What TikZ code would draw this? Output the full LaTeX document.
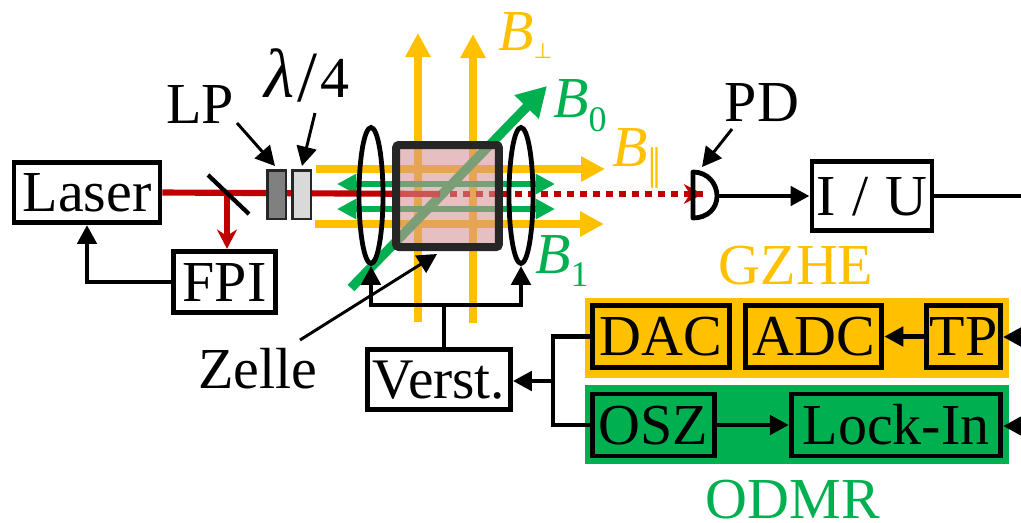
\documentclass[tikz,border=0pt]{standalone}
\usepackage{fontspec}
\setmainfont{Liberation Serif}
\newfontfamily\symfont{DejaVu Sans}
\usetikzlibrary{arrows.meta,shapes.geometric}
\definecolor{gelb}{HTML}{FFC000}
\definecolor{gruen}{HTML}{00B050}
\definecolor{rot}{HTML}{C00000}
\definecolor{rahmen}{HTML}{262626}
\definecolor{zellfill}{RGB}{212,146,146}
\newcommand{\bigtxt}{\fontsize{43.5}{50}\selectfont}
\newcommand{\subtxt}{\fontsize{27}{30}\selectfont}
\tikzset{
  x=0.75pt,y=-0.75pt,
  blackline/.style={draw=black,line width=3.7pt},
  blackarrow/.style={blackline,-{Triangle[length=14.25pt,width=14.25pt]}},
  thinarrow/.style={draw=black,line width=2.2pt,-{Triangle[length=14.5pt,width=15pt]}},
  box/.style={draw=black,line width=3.7pt,inner sep=0pt,font=\bigtxt,text height=28.9pt,text depth=0pt,align=center},
  lab/.style={anchor=base,inner sep=0pt,font=\bigtxt},
  symlab/.style={anchor=base west,inner sep=0pt,font=\bigtxt},
  yellowbeam/.style={draw=gelb,line width=5.8pt,-{Triangle[length=18pt,width=18pt]}},
  greenthin/.style={draw=gruen,line width=3.8pt,{Triangle[length=14.5pt,width=14.5pt]}-{Triangle[length=14.5pt,width=14.5pt]}},
  greenthick/.style={draw=gruen,line width=7pt,-{Triangle[length=22pt,width=24pt]}},
  redbeam/.style={draw=rot,line width=4.6pt},
  optic/.style={draw=rahmen,line width=2pt,inner sep=0pt},
  coil/.style={ellipse,draw=black,line width=3.6pt,inner sep=0pt,minimum width=18pt,minimum height=102pt}
}
\begin{document}
\begin{tikzpicture}
\useasboundingbox (0,0) rectangle (1021,522);

% coordinates of the free beam ends
\coordinate (yl1) at (316,169); \coordinate (yr1) at (605,169);
\coordinate (yl2) at (315,224); \coordinate (yr2) at (604,224);
\coordinate (yb1) at (418,322); \coordinate (yt1) at (418,33);
\coordinate (yb2) at (473,323); \coordinate (yt2) at (473,34);
\coordinate (gl1) at (337,184); \coordinate (gr1) at (555,184);
\coordinate (gl2) at (337,209); \coordinate (gr2) at (555,209);
\coordinate (b0a) at (351,288); \coordinate (b0b) at (547,86);
\coordinate (mirA) at (208,175); \coordinate (mirB) at (249,214);
\coordinate (split) at (227,194);
\coordinate (solidend) at (440,194);
\coordinate (dotstart) at (450,194);
\coordinate (pdtip) at (703,194);
\coordinate (bus) at (444,305);
\coordinate (junc) at (553,381);
\coordinate (frA) at (1025,337);
\coordinate (frB) at (1025,426);
\coordinate (frC) at (1021,196);
\coordinate (fpiCorner) at (87,282);

% background panels
\node[fill=gelb,inner sep=0pt,minimum width=318pt,minimum height=60pt] (gzheBg) at (797,338) {};
\node[fill=gruen,inner sep=0pt,minimum width=318pt,minimum height=59.25pt] (odmrBg) at (797,424.5) {};

% magnetic field beams
\draw[yellowbeam] (yb1) -- (yt1);
\draw[yellowbeam] (yb2) -- (yt2);
\draw[yellowbeam] (yl1) -- (yr1);
\draw[yellowbeam] (yl2) -- (yr2);
\draw[greenthin] (gl1) -- (gr1);
\draw[greenthin] (gl2) -- (gr2);
\draw[greenthick] (b0a) -- (b0b);

% laser beam
\node[box,minimum width=109.5pt,minimum height=45pt] (laser) at (87,192.5) {Laser};
\node[box,minimum width=76pt,minimum height=46pt] (fpi) at (224.5,282) {FPI};
\draw[redbeam] (laser.east) -- (solidend);
\draw[redbeam,dash pattern=on 5pt off 4.75pt] (dotstart) -- (pdtip);
\draw[draw=rot,line width=0pt,-{Stealth[length=14.5pt,width=15pt]}] ([xshift=-10pt]pdtip) -- (pdtip);
\draw[redbeam,-{Stealth[length=14.5pt,width=15pt]}] (split) -- (fpi.north -| split);
\draw[draw=black,line width=3.2pt] (mirA) -- (mirB);
\node[optic,fill=black!50,minimum width=14pt,minimum height=36.5pt] (lp) at (276.5,194.5) {};
\node[optic,fill=black!15,minimum width=14pt,minimum height=36.5pt] (qwp) at (301.5,194.5) {};

% cell
\node[draw=rahmen,fill=zellfill,fill opacity=0.58,draw opacity=1,line width=6pt,rounded corners=2pt,inner sep=0pt,minimum width=77pt,minimum height=76.5pt] (cell) at (447.5,196) {};

% coils
\node[coil] (coilL) at (371,195.5) {};
\node[coil] (coilR) at (521,195.5) {};

% electronics
\node[box,minimum width=107pt,minimum height=45.5pt,font=\fontsize{43}{50}\selectfont] (verst) at (439,379.5) {Verst.};
\draw[blackline] (verst.north -| bus) -- (bus);
\draw[blackarrow] (bus) -| (coilL.south);
\draw[blackarrow] (bus) -| (coilR.south);

\node[box,minimum width=103pt,minimum height=47pt] (dac) at (661,336.5) {DAC};
\node[box,minimum width=102.5pt,minimum height=47pt] (adc) at (813.5,336.5) {ADC};
\node[box,minimum width=55.5pt,minimum height=47pt] (tp) at (963.5,336.5) {TP};
\node[box,minimum width=91.5pt,minimum height=46.5pt] (osz) at (653.5,425) {OSZ};
\node[box,minimum width=157pt,minimum height=46.5pt] (lockin) at (896,425) {Lock-In};

\draw[blackarrow] (tp) -- (adc);
\draw[blackarrow] (frA) -- (tp.east |- frA);
\draw[blackarrow] (frB) -- (lockin.east |- frB);
\draw[blackarrow] (osz) -- (lockin);
\draw[blackline] (dac.west) -| (junc);
\draw[blackline] (osz.west) -| (junc);
\draw[blackarrow] (junc) -- (verst.east |- junc);
\draw[blackarrow] (fpi.west |- fpiCorner) -| (laser.south -| fpiCorner);

% photodiode
\coordinate (pdTop) at (693,172);
\coordinate (pdBot) at (693,218);
\coordinate (pdOut) at (717,196);
\draw[draw=black,line width=3.6pt,line join=round] (pdTop) .. controls (708,172) and (717,184) .. (pdOut) .. controls (717,208) and (708,218) .. (pdBot) -- cycle;
\node[box,minimum width=90pt,minimum height=51.5pt] (iu) at (872,196) {I\hspace{2pt} / \hspace{2pt}U};
\draw[blackarrow] (pdOut) -- (iu.west |- pdOut);
\draw[blackline] (iu.east) -- (frC);

% labels and pointers
\node[lab] (lpText) at (200,123) {LP};
\node[lab] (qwpText) at (307,97) {{\fontsize{52}{52}\selectfont\textit{λ}}\hspace{2.5pt}\raisebox{-3pt}{\fontsize{54}{54}\selectfont /}\hspace{2.5pt}4};
\node[lab] (pdText) at (762,121) {PD};
\node[lab] (zelleText) at (258,388) {Zelle};
\coordinate (lpFrom) at (237,123);
\coordinate (lpTo) at (275,166);
\coordinate (qwFrom) at (315,113);
\coordinate (qwTo) at (302,166);
\coordinate (pdFrom) at (732,129);
\coordinate (pdTo) at (702,167);
\coordinate (zeFrom) at (300,340);
\coordinate (zeTo) at (437,254);
\draw[thinarrow] (lpFrom) -- (lpTo);
\draw[thinarrow] (qwFrom) -- (qwTo);
\draw[thinarrow] (pdFrom) -- (pdTo);
\draw[thinarrow] (zeFrom) -- (zeTo);

\node[lab,text=gelb] (gzhe) at (796,284) {GZHE};
\node[lab,text=gruen] (odmr) at (793,518) {ODMR};
\node[symlab,text=gelb] (bperp) at (498,50) {\textit{B}\raisebox{-6pt}{\symfont\fontsize{16}{18}\selectfont ⊥}};
\node[symlab,text=gelb] (bpar) at (612,166) {\textit{B}\raisebox{-10pt}{\scalebox{0.7}[1]{\symfont\fontsize{31}{33}\selectfont ∥}}};
\node[symlab,text=gruen] (bnull) at (553,117) {\textit{B}\raisebox{-11pt}{\subtxt 0}};
\node[symlab,text=gruen] (beins) at (535,273) {\textit{B}\raisebox{-10pt}{\subtxt 1}};
\end{tikzpicture}
\end{document}
